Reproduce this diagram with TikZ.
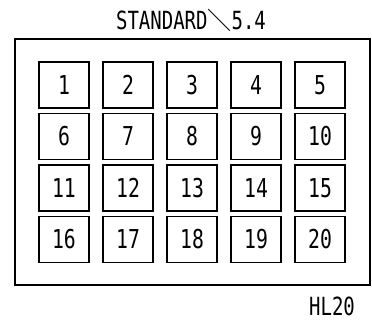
\documentclass[tikz,border=0pt]{standalone}
\usepackage{fontspec}
\usepackage{tikz}
\usetikzlibrary{positioning}
\newfontfamily\gothic[FakeStretch=0.76]{DejaVu Sans Mono}
\newfontfamily\cjk{Noto Sans CJK JP}

\begin{document}
\begin{tikzpicture}[x=1pt, y=-1pt,
    cell/.style={draw, line width=1.3pt, minimum width=50pt, minimum height=46pt,
                 inner sep=0pt, font=\gothic\fontsize{26}{26}\selectfont},
    label/.style={font=\gothic\fontsize{25}{25}\selectfont, inner sep=0pt, anchor=base}]
    \useasboundingbox (0,0) rectangle (372,322);

    % Outer frame
    \coordinate (tl) at (15,39);
    \coordinate (br) at (370,285);
    \draw[line width=1.3pt] (tl) rectangle (br);

    % Title
    \node[label] (title) at (191,29) {STANDARD{\cjk\fontsize{24}{24}\selectfont ＼}5.4};

    % Cells (4 rows x 5 columns)
    \foreach \r in {0,...,3} {
        \foreach \c in {1,...,5} {
            \pgfmathtruncatemacro{\n}{\r*5+\c}
            \node[cell] (b\n) at ({64+64*(\c-1)}, {85+51.5*\r}) {\n};
        }
    }

    % Model name
    \node[label] (model) at (332,315) {HL20};

\end{tikzpicture}
\end{document}
